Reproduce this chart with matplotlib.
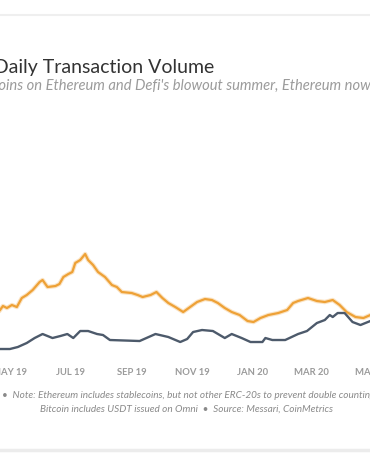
import pandas as pd
import matplotlib
matplotlib.use("Agg")
import matplotlib.pyplot as plt
import matplotlib.dates as mdates
from matplotlib.lines import Line2D
from matplotlib.ticker import FuncFormatter

matplotlib.rcParams['font.family'] = ['Lato', 'DejaVu Sans']

# daily transaction volume, USD billions
btc_dates = ['2019-04-21', '2019-04-24', '2019-04-28', '2019-05-03', '2019-05-08',
             '2019-05-13', '2019-05-18', '2019-05-24', '2019-05-31', '2019-06-03',
             '2019-06-08', '2019-06-16', '2019-06-20', '2019-06-24', '2019-06-29',
             '2019-07-03', '2019-07-06', '2019-07-11', '2019-07-16', '2019-07-19',
             '2019-07-24', '2019-07-29', '2019-08-05', '2019-08-12', '2019-08-17',
             '2019-08-22', '2019-09-01', '2019-09-07', '2019-09-12', '2019-09-20',
             '2019-09-26', '2019-10-02', '2019-10-08', '2019-10-15', '2019-10-23',
             '2019-10-30', '2019-11-06', '2019-11-14', '2019-11-21', '2019-11-27',
             '2019-12-04', '2019-12-11', '2019-12-19', '2019-12-27', '2020-01-02',
             '2020-01-09', '2020-01-17', '2020-01-27', '2020-02-05', '2020-02-11',
             '2020-02-16', '2020-02-26', '2020-03-06', '2020-03-14', '2020-03-22',
             '2020-03-29', '2020-04-05', '2020-04-14', '2020-04-22', '2020-04-29']
btc_vol = [7.0, 7.4, 7.2, 7.5, 7.3, 8.2, 8.5, 9.0, 9.8, 10.0,
           9.3, 9.4, 9.6, 10.3, 10.6, 10.8, 11.7, 12.0, 12.6, 12.0,
           11.5, 10.8, 10.3, 9.5, 9.3, 8.8, 8.7, 8.5, 8.3, 8.5,
           8.8, 8.2, 7.7, 7.3, 6.8, 7.3, 7.8, 8.1, 8.0, 7.7,
           7.2, 6.8, 6.5, 5.9, 5.8, 6.2, 6.5, 6.7, 7.0, 7.7,
           7.9, 8.2, 7.9, 7.8, 8.0, 7.5, 6.8, 6.3, 6.2, 6.5]

eth_dates = ['2019-04-21', '2019-05-01', '2019-05-09', '2019-05-18', '2019-05-26',
             '2019-06-03', '2019-06-13', '2019-06-21', '2019-06-28', '2019-07-04',
             '2019-07-11', '2019-07-19', '2019-07-28', '2019-08-03', '2019-08-10',
             '2019-09-09', '2019-09-25', '2019-10-08', '2019-10-20', '2019-10-27',
             '2019-11-02', '2019-11-11', '2019-11-22', '2019-12-04', '2019-12-11',
             '2019-12-21', '2019-12-30', '2020-01-11', '2020-01-14', '2020-01-21',
             '2020-02-03', '2020-02-16', '2020-02-25', '2020-03-06', '2020-03-14',
             '2020-03-19', '2020-03-22', '2020-03-27', '2020-04-03', '2020-04-11',
             '2020-04-19', '2020-04-29']
eth_vol = [3.1, 3.1, 3.3, 3.7, 4.2, 4.6, 4.2, 4.4, 4.6, 4.2,
           4.9, 4.9, 4.6, 4.5, 4.0, 3.9, 4.6, 4.3, 3.8, 4.1,
           4.8, 5.0, 4.9, 4.2, 4.6, 4.2, 3.8, 3.8, 4.2, 4.0,
           4.0, 4.6, 4.9, 5.7, 6.0, 6.5, 6.3, 6.7, 6.7, 5.8,
           5.5, 5.9]

title = "Ethereum vs. Bitcoin Daily Transaction Volume"
sub_head = "Thanks to stablec"
sub_tail = ("oins on Ethereum and Defi's blowout summer, "
            "Ethereum now settles more value than Bitcoin")
subtitle = sub_head + sub_tail
note1 = "\u2022  Note: Ethereum includes stablecoins, but not other ERC-20s to prevent double counting"
note2 = "Bitcoin includes USDT issued on Omni  \u2022  Source: Messari, CoinMetrics"

btc_x = pd.to_datetime(btc_dates)
eth_x = pd.to_datetime(eth_dates)

W, H = 370, 463
fig = plt.figure(figsize=(W / 100, H / 100), dpi=100)
fig.patch.set_facecolor('white')
renderer = fig.canvas.get_renderer()


def text_width(s, **kw):
    t = fig.text(0, 0, s, **kw)
    w = t.get_window_extent(renderer).width
    t.remove()
    return w


ax = fig.add_axes([0.0, 0.2138, 1.1, 0.2894])
ax.plot(btc_x, btc_vol, color='#f3b25a', lw=3.2, alpha=0.35, solid_joinstyle='round')
ax.plot(btc_x, btc_vol, color='#eea136', lw=1.6, solid_joinstyle='round')
ax.plot(eth_x, eth_vol, color='#4d5a6b', lw=1.7, solid_joinstyle='round')

ax.set_xlim(pd.Timestamp('2019-04-21'), pd.Timestamp('2020-06-05'))
ax.set_ylim(1.6, 15)
for s in ax.spines.values():
    s.set_visible(False)
ax.set_yticks([])
ax.xaxis.set_major_locator(mdates.MonthLocator(bymonth=[1, 3, 5, 7, 9, 11]))
ax.xaxis.set_major_formatter(FuncFormatter(lambda v, p: mdates.num2date(v).strftime('%b %y').upper()))
ax.tick_params(axis='x', length=0, pad=3.2, labelsize=6.8, labelcolor='#9a9a9a')
for lab in ax.get_xticklabels():
    lab.set_fontweight('bold')

fig.text(214 / W, 1 - 67 / H, title, ha='right', va='center', fontsize=14, color='#333333')

# subtitle: visible part "oins ... Ethereum now" runs across the whole width
sub_kw = dict(style='italic', fontsize=10)
vis = "oins on Ethereum and Defi's blowout summer, Ethereum now"
sub_size = 10 * 372 / text_width(vis, **sub_kw)
sub_kw['fontsize'] = sub_size
x0 = -2 - text_width(sub_head, **sub_kw)
fig.text(x0 / W, 1 - 86 / H, subtitle, ha='left', va='center', color='#9b9b9b', **sub_kw)

fig.text(2 / W, 1 - 395 / H, note1, ha='left', va='center', fontsize=7.2,
         style='italic', color='#8a8a8a')
fig.text(186 / W, 1 - 409 / H, note2, ha='center', va='center', fontsize=7.2,
         style='italic', color='#8a8a8a')

fig.add_artist(Line2D([0, 1], [1 - 15 / H, 1 - 15 / H], transform=fig.transFigure,
                      color='#efefef', lw=1.5))
fig.add_artist(Line2D([0, 1], [1 - 450 / H, 1 - 450 / H], transform=fig.transFigure,
                      color='#ececec', lw=2.5))

fig.savefig('out.png', dpi=100)
